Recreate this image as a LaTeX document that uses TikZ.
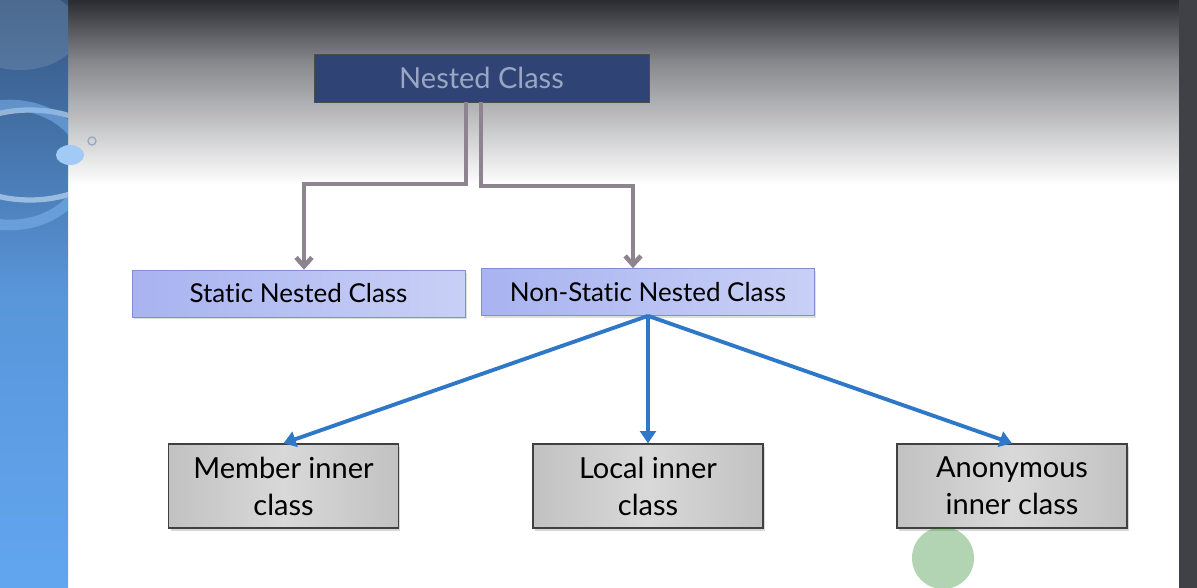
\documentclass[tikz,border=0pt]{standalone}
\usepackage{fontspec}
\setmainfont{Lato}[Ligatures=CommonOff]
\usetikzlibrary{arrows.meta,shadows}
\definecolor{topdark}{HTML}{2B2C31}
\definecolor{topmid}{HTML}{85868B}
\definecolor{stripdark}{HTML}{34557F}
\definecolor{striplight}{HTML}{62A6F0}
\definecolor{rootfill}{HTML}{2F4375}
\definecolor{roottext}{HTML}{9AA6C2}
\definecolor{kindleft}{HTML}{A8B3F0}
\definecolor{kindright}{HTML}{C9D0F6}
\definecolor{kindedge}{HTML}{7F8FD0}
\definecolor{linkgray}{HTML}{8E8490}
\definecolor{linkblue}{HTML}{2F78C8}
\tikzset{
  rootbox/.style={draw=black!70, fill=rootfill, text=roottext, minimum width=6.7cm,
    minimum height=0.96cm, font=\fontsize{16.5}{19}\selectfont},
  kindbox/.style={draw=kindedge, left color=kindleft, right color=kindright,
    minimum width=6.66cm, minimum height=0.94cm, font=\fontsize{14.8}{17}\selectfont,
    drop shadow={shadow xshift=0.04cm, shadow yshift=-0.05cm, opacity=0.25}},
  innerbox/.style={draw=black!75, thick, left color=black!24, right color=black!24,
    middle color=black!15, minimum width=4.6cm, minimum height=1.68cm, align=center,
    font=\fontsize{16.5}{21}\selectfont,
    drop shadow={shadow xshift=0.04cm, shadow yshift=-0.06cm, opacity=0.3}},
  graylink/.style={draw=linkgray, line width=2.6pt, -{Straight Barb[length=5pt,width=9pt]}},
  bluelink/.style={draw=linkblue, line width=2.2pt, -{Triangle[length=7pt,width=9pt]}}
}
\begin{document}
\begin{tikzpicture}[x=0.02cm,y=-0.02cm]
    \useasboundingbox (0,0) rectangle (1197,588);
    % slide background
    \fill[white] (0,0) rectangle (1197,588);
    \shade[top color=topdark, bottom color=topmid] (68,0) rectangle (1179,60.5);
    \shade[top color=topmid, bottom color=white] (68,60) rectangle (1179,185);
    \fill[topdark!90] (1179,0) rectangle (1197,588);
    \begin{scope}
      \clip (0,0) rectangle (68,588);
      \shade[top color=stripdark, bottom color=striplight, middle color=striplight!80!stripdark] (0,0) rectangle (68,588);
      \draw[white!70!striplight, line width=3pt, opacity=0.6] (30,155) ellipse [x radius=80, y radius=45];
      \draw[striplight!80!white, line width=6pt, opacity=0.5] (10,165) ellipse [x radius=75, y radius=60];
      \fill[white, opacity=0.12] (20,30) ellipse [x radius=60, y radius=40];
    \end{scope}
    \fill[striplight!60!white] (70,155) ellipse [x radius=14, y radius=10];
    \draw[stripdark!50!white, line width=0.8pt] (92,141) circle [radius=4];
    % nodes
    \node[rootbox] (nested) at (481.5,78) {Nested Class};
    \node[kindbox] (static) at (298.5,293.5) {Static Nested Class};
    \node[kindbox] (nonstatic) at (648,292) {Non-Static Nested Class};
    \node[innerbox] (member) at (283.5,486) {Member inner\\class};
    \node[innerbox] (local) at (648,486) {Local inner\\class};
    \node[innerbox] (anon) at (1012,486) {Anonymous\\inner class};
    % connectors
    \draw[graylink] (nested.south -| 466,0) |- (304,184) -- (static.north -| 304,0);
    \draw[graylink] (nested.south -| 481,0) |- (633,186) -- (nonstatic.north -| 633,0);
    \draw[bluelink] (nonstatic.south) -- (member.north);
    \draw[bluelink] (nonstatic.south) -- (local.north);
    \draw[bluelink] (nonstatic.south) -- (anon.north);
    % pointer highlight
    \fill[green!45!black, opacity=0.3] (943,558) circle [radius=31];
\end{tikzpicture}
\end{document}
